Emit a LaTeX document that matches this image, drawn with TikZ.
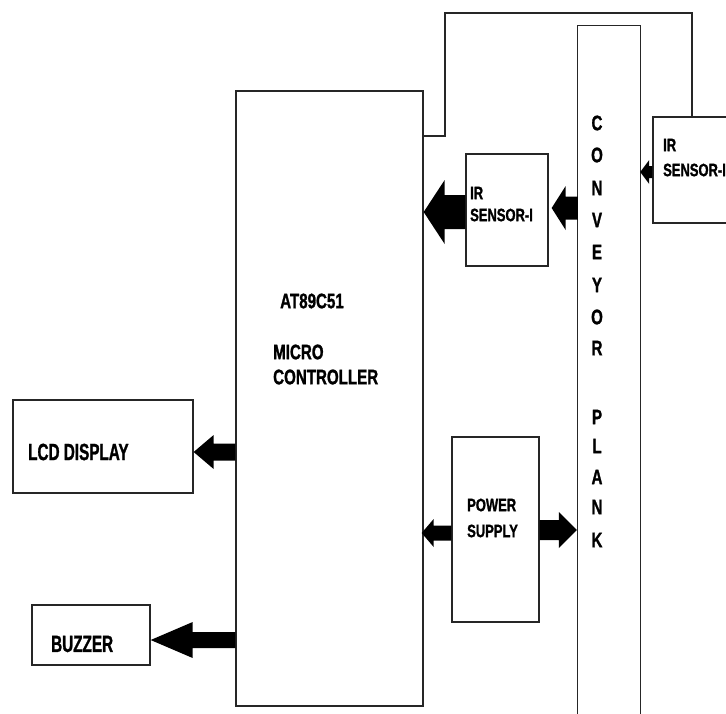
\documentclass[tikz,border=0pt]{standalone}
\usepackage{fontspec}
\newfontfamily\fa{Liberation Sans}[UprightFont={* Bold}, FakeStretch=0.72, FakeBold=1.2]
\newfontfamily\fb{Liberation Sans}[UprightFont={* Bold}, FakeStretch=0.65, FakeBold=1.2]
\usetikzlibrary{calc}
\tikzset{
  box/.style={draw=black!85, line width=1.3pt, fill=none, inner sep=0pt, anchor=center},
  lbl/.style={inner sep=0pt, anchor=west, text=black},
  wire/.style={draw=black!85, line width=1.3pt},
}
\newcommand\blockarrow[5]{%
  \fill[black] let \p1=#1, \p2=#2, \n1={sign(\x2-\x1)} in
   (\x1,{\y1+#3pt/2}) -- ({\x2-(\n1)*#5pt},{\y1+#3pt/2}) -- ({\x2-(\n1)*#5pt},{\y1+#4pt/2})
   -- (\x2,\y1) -- ({\x2-(\n1)*#5pt},{\y1-#4pt/2}) -- ({\x2-(\n1)*#5pt},{\y1-#3pt/2})
   -- (\x1,{\y1-#3pt/2}) -- cycle;}
\begin{document}
\begin{tikzpicture}[x=1pt,y=-1pt]
\useasboundingbox (0,0) rectangle (726,713);
\clip (0,0) rectangle (726,713);
% boxes
\node[box, minimum width=187pt, minimum height=615pt] (mc) at (329.5,398.5) {};
\node[inner sep=0pt, minimum width=62pt, minimum height=714pt] (conv) at (609,383) {};
\draw[wire] (conv.south west) -- (conv.north west) -- (conv.north east) -- (conv.south east);
\node[box, minimum width=82pt, minimum height=112pt] (irl) at (507,210) {};
\node[box, minimum width=127pt, minimum height=106pt] (irr) at (716.5,170) {};
\node[box, minimum width=87pt, minimum height=185pt] (ps) at (495.5,529.5) {};
\node[box, minimum width=180pt, minimum height=93pt] (lcd) at (103,446.5) {};
\node[box, minimum width=118pt, minimum height=60pt] (buz) at (91,635) {};
% wire
\coordinate (w0) at (423,136);
\coordinate (w1) at (445,13);
\coordinate (w2) at (692,13);
\draw[wire] (mc.east |- w0) -- (w1 |- w0) -- (w1) -- (w2) -- (irr.north -| w2);
% texts
\node[lbl, font=\fa\fontsize{21}{21}\selectfont] (t1) at (280,301) {AT89C51};
\node[lbl, font=\fa\fontsize{21}{21}\selectfont] (t2) at (273,352) {MICRO};
\node[lbl, font=\fa\fontsize{21}{21}\selectfont] (t3) at (273,377) {CONTROLLER};
\node[lbl, font=\fb\fontsize{23.5}{23.5}\selectfont] (t4) at (28,452) {LCD DISPLAY};
\node[lbl, font=\fb\fontsize{23.5}{23.5}\selectfont] (t5) at (51,644) {BUZZER};
\node[lbl, font=\fa\fontsize{18}{18}\selectfont] (t6) at (470,193) {IR};
\node[lbl, font=\fa\fontsize{18}{18}\selectfont] (t7) at (470,215) {SENSOR-I};
\node[lbl, font=\fa\fontsize{18}{18}\selectfont] (t8) at (663,145) {IR};
\node[lbl, font=\fa\fontsize{18}{18}\selectfont] (t9) at (663,170) {SENSOR-I};
\node[lbl, font=\fa\fontsize{18}{18}\selectfont] (t10) at (467,505) {POWER};
\node[lbl, font=\fa\fontsize{18}{18}\selectfont] (t11) at (467,531) {SUPPLY};
\foreach \l/\yy [count=\i] in {C/123,O/155,N/188,V/220,E/252,Y/285,O/317,R/348,P/417,L/446,A/477,N/507,K/540}
  \node[inner sep=0pt, font=\fa\fontsize{21}{21}\selectfont] (c\i) at (597,\yy) {\l};
% block arrows
\coordinate (a1) at ([yshift=-2pt]irl.west);
\blockarrow{(a1)}{(mc.east |- a1)}{34}{64}{21}
\coordinate (a2) at (conv.west |- 0,208);
\blockarrow{(a2)}{([xshift=3pt]irl.east |- a2)}{23}{44}{14}
\coordinate (a3) at (irr.west |- 0,172);
\blockarrow{(a3)}{(conv.east |- a3)}{12}{24}{9}
\coordinate (a4) at (mc.west |- 0,452);
\blockarrow{(a4)}{(lcd.east |- a4)}{17}{34}{20}
\coordinate (a5) at (mc.west |- 0,640);
\blockarrow{(a5)}{(buz.east |- a5)}{16}{36}{42}
\coordinate (a6) at (ps.west |- 0,533);
\blockarrow{(a6)}{([xshift=-2pt]mc.east |- a6)}{15}{28}{12}
\coordinate (a7) at (ps.east |- 0,530);
\blockarrow{(a7)}{([xshift=-1pt]conv.west |- a7)}{20}{36}{18}
\end{tikzpicture}
\end{document}
